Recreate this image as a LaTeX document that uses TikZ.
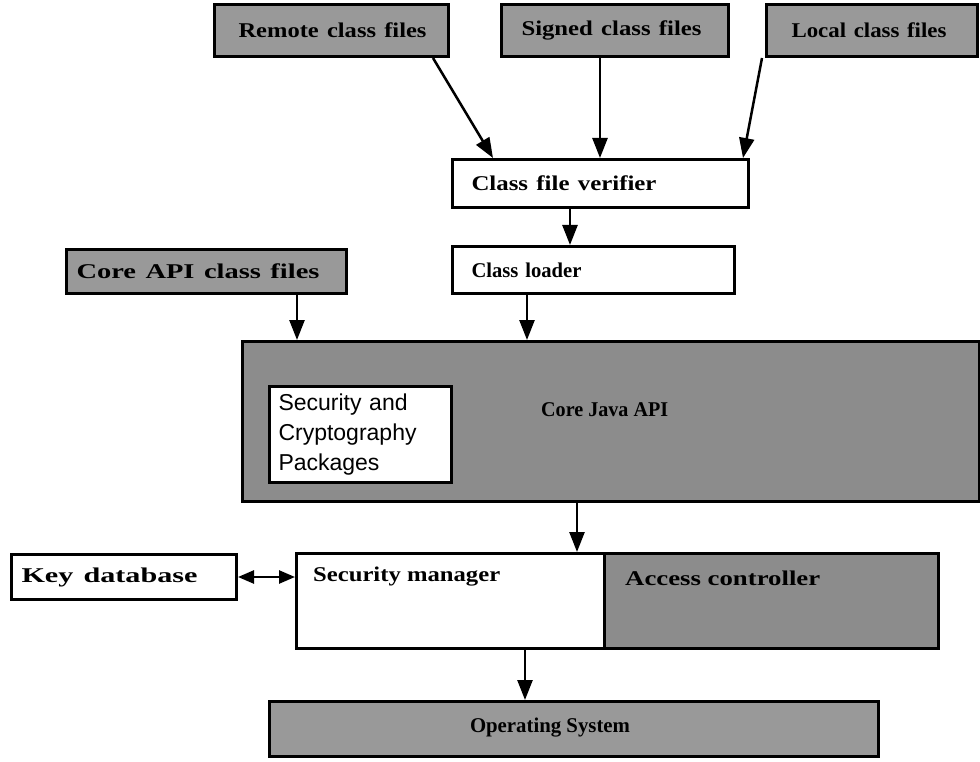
\documentclass[tikz,border=0pt]{standalone}
\usepackage{fontspec}
\usepackage{graphicx}
\setmainfont{Liberation Serif}
\newfontfamily\pkgfont{Liberation Sans}
\usetikzlibrary{arrows.meta,calc}
\definecolor{boxgray}{gray}{0.60}
\definecolor{boxdark}{gray}{0.55}
\newcommand{\wl}[2]{\resizebox{#1}{\height}{#2}}
\begin{document}
\begin{tikzpicture}[x=1pt,y=-1pt,
  box/.style={draw=black, line width=3pt, fill=white, inner sep=0pt, anchor=north west, align=left,
              font=\fontsize{21}{24}\selectfont\bfseries},
  gbox/.style={box, fill=boxgray},
  lbl/.style={inner sep=0pt, anchor=west, font=\fontsize{21}{24}\selectfont\bfseries},
  arr/.style={line width=2.5pt, -{Triangle[length=20pt,width=15pt]}},
  darr/.style={line width=2.5pt, {Triangle[length=16pt,width=13pt]}-{Triangle[length=16pt,width=13pt]}},
]
\useasboundingbox[fill=white] (0,0) rectangle (980,762);

% top sources
\node[gbox, minimum height=52pt, text width=186pt, inner xsep=24pt] (remote) at (213,3) {\wl{188pt}{Remote class files}};
\node[gbox, minimum height=52pt, text width=187pt, inner xsep=20pt] (signed) at (500,3) {\wl{180pt}{Signed class files}};
\node[gbox, minimum height=52pt, text width=161pt, inner xsep=25pt] (local) at (765,3) {\wl{155pt}{Local class files}};

% verifier and loader
\node[box, minimum height=48pt, text width=258pt, inner xsep=19pt] (verifier) at (451,158) {\wl{185pt}{Class file verifier}};
\node[box, minimum height=47pt, text width=244pt, inner xsep=19pt] (loader) at (451,245) {\wl{110pt}{Class loader}};
\node[gbox, minimum height=44pt, text width=260pt, inner xsep=10pt] (coreapi) at (65,248) {\wl{243pt}{Core API class files}};

% core java API
\node[gbox, fill=boxdark, minimum width=737pt, minimum height=160pt] (core) at (241,340) {};
\node[lbl] (corelbl) at (541,410) {\wl{127pt}{Core Java API}};
\node[box, minimum height=96pt, text width=164pt, inner xsep=9pt,
      font=\pkgfont\fontsize{23}{30}\selectfont] (pkg) at (268,385) {Security and\\Cryptography\\Packages};

% security manager row
\node[box, minimum height=45pt, text width=205pt, inner xsep=10pt] (keydb) at (10,553) {\wl{176pt}{Key database}};
\node[box, minimum width=308pt, minimum height=95pt] (secman) at (295,552) {};
\node[lbl] (secmanlbl) at (313,577) {\wl{187pt}{Security manager}};
\node[gbox, fill=boxdark, minimum width=334pt, minimum height=95pt] (access) at (603,552) {};
\node[lbl] (accesslbl) at (625,578) {\wl{195pt}{Access controller}};

% OS
\node[gbox, minimum width=609pt, minimum height=55pt] (os) at (268,700) {};
\node[lbl, anchor=center] (oslbl) at (550,728) {\wl{160pt}{Operating System}};

% connectors
\draw[arr] ($(remote.south east)+(-17,0)$) -- ($(verifier.north west)+(42,0)$);
\draw[arr] ($(signed.south west)+(100,0)$) -- ($(verifier.north west)+(149,0)$);
\draw[arr] ($(local.south west)+(-3,0)$) -- ($(verifier.north east)+(-7,0)$);
\draw[arr] ($(verifier.south west)+(119,0)$) -- ($(loader.north west)+(119,0)$);
\draw[arr] ($(coreapi.south west)+(232,0)$) -- ($(core.north west)+(56,0)$);
\draw[arr] ($(loader.south west)+(76,0)$) -- ($(core.north west)+(286,0)$);
\draw[arr] ($(core.south west)+(336,0)$) -- ($(secman.north west)+(282,0)$);
\draw[darr] (keydb.east) -- (secman.west |- keydb.east);
\draw[arr] ($(secman.south west)+(230,0)$) -- ($(os.north west)+(257,0)$);
\end{tikzpicture}
\end{document}
